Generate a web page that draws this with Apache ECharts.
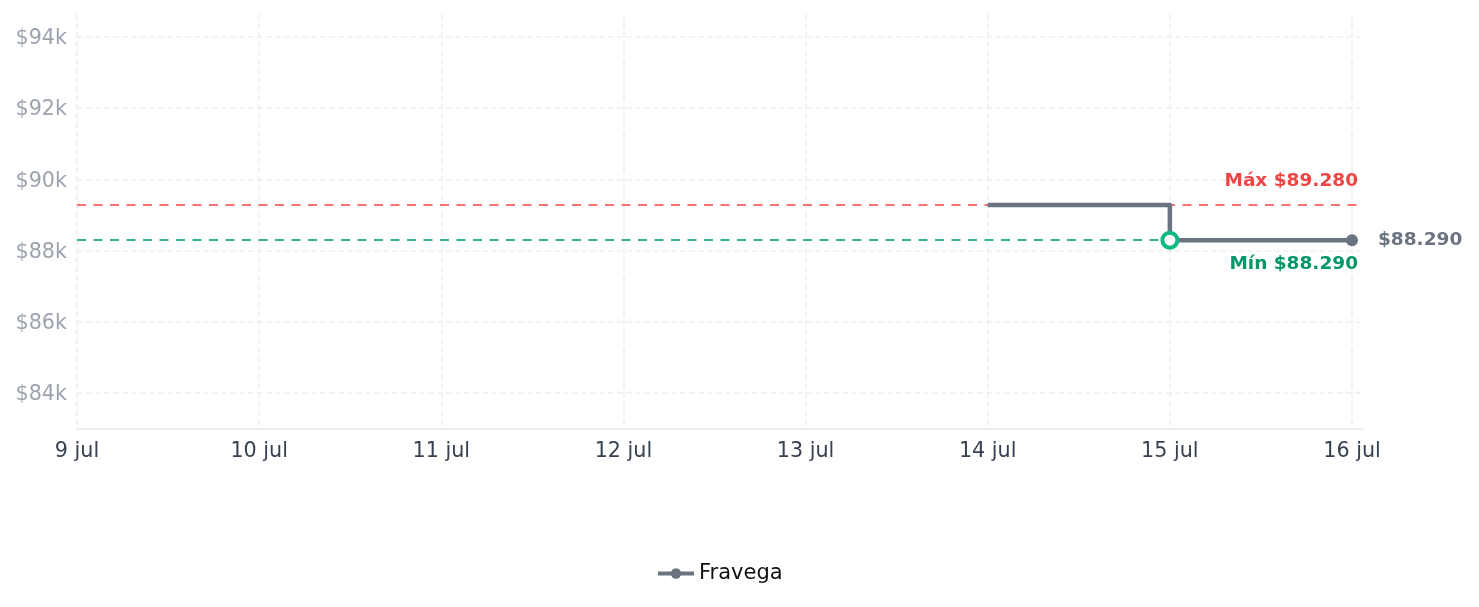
<!DOCTYPE html>
<html>
<head>
<meta charset="utf-8">
<script src="https://cdn.jsdelivr.net/npm/echarts@6/dist/echarts.min.js"></script>
<style>
  html, body { margin: 0; padding: 0; background: #fff; }
  #chart { width: 1479px; height: 607px; }
</style>
</head>
<body>
<div id="chart"></div>
<script>
// datos
const storeName = 'Fravega'
const dates = ['2025-07-14', '2025-07-15', '2025-07-16']
const prices = [89280, 88290, 88290]
const maxPrice = 89280
const minPrice = 88290
const monthNames = ['ene', 'feb', 'mar', 'abr', 'may', 'jun', 'jul', 'ago', 'sep', 'oct', 'nov', 'dic']

function toDate(s) {
  const p = s.split('-')
  return new Date(+p[0], +p[1] - 1, +p[2]).getTime()
}
function fmtMoney(v) {
  return '$' + String(v).replace(/\B(?=(\d{3})+(?!\d))/g, '.')
}

const axisMin = toDate('2025-07-09')
const axisMax = toDate('2025-07-16') + 1.45 * 3600 * 1000

// puntos de la serie
const seriesData = dates.map((d, i) => {
  const item = { value: [toDate(d), prices[i]] }
  if (i === 1) {
    // marcador del minimo
    item.symbol = 'circle'
    item.symbolSize = 15
    item.itemStyle = { color: '#fff', borderColor: '#10b981', borderWidth: 4 }
  } else if (i === dates.length - 1) {
    item.symbol = 'circle'
    item.symbolSize = 12
    item.itemStyle = { color: '#6b7280' }
    item.label = {
      show: true,
      position: 'right',
      distance: 20,
      formatter: () => fmtMoney(prices[i]),
      color: '#6b7280',
      fontWeight: 'bold',
      fontSize: 18.5
    }
  } else {
    item.symbol = 'none'
  }
  return item
})

const chart = echarts.init(document.getElementById('chart'))
chart.setOption({
  animation: false,
  textStyle: { fontFamily: 'DejaVu Sans' },
  grid: { left: 77, right: 116, top: 14, bottom: 178 },
  legend: {
    bottom: 18,
    left: 651,
    data: [storeName],
    itemWidth: 36,
    itemHeight: 13,
    itemGap: 10,
    lineStyle: { width: 4 },
    textStyle: { color: '#111', fontSize: 21 }
  },
  xAxis: {
    type: 'time',
    min: axisMin,
    max: axisMax,
    minInterval: 86400000,
    maxInterval: 86400000,
    axisLine: { lineStyle: { color: '#e5e7eb', width: 1.5 } },
    axisTick: { show: false },
    axisLabel: {
      color: '#374151',
      fontSize: 20.7,
      margin: 12,
      showMaxLabel: false,
      formatter: v => {
        const d = new Date(v)
        return d.getDate() + ' ' + monthNames[d.getMonth()]
      }
    },
    splitLine: { show: true, showMaxLine: false, lineStyle: { color: '#f0f0f2', type: 'dashed', width: 1.5 } }
  },
  yAxis: {
    type: 'value',
    min: minPrice * 0.94,
    max: maxPrice * 1.06,
    axisLine: { show: false },
    axisTick: { show: false },
    axisLabel: {
      color: '#9ca3af',
      fontSize: 20.7,
      margin: 10,
      verticalAlign: 'top',
      lineHeight: 24,
      padding: [-10, 0, 0, 0],
      showMinLabel: false,
      showMaxLabel: false,
      formatter: v => '$' + Math.round(v / 1000) + 'k'
    },
    splitLine: { showMaxLine: false, showMinLine: false, lineStyle: { color: '#f0f0f2', type: 'dashed', width: 1.5 } }
  },
  series: [{
    name: storeName,
    type: 'line',
    step: 'end',
    color: '#6b7280',
    symbol: 'circle',
    symbolSize: 12,
    showSymbol: true,
    lineStyle: { width: 4.5, color: '#6b7280', join: 'round' },
    itemStyle: { color: '#6b7280' },
    data: seriesData,
    z: 5,
    markLine: {
      silent: true,
      symbol: 'none',
      data: [
        {
          yAxis: maxPrice,
          lineStyle: { color: '#f87171', type: [9, 7.5], width: 2 },
          label: {
            position: 'insideEndTop',
            formatter: 'Máx ' + fmtMoney(maxPrice),
            color: '#ef4444',
            fontWeight: 'bold',
            fontSize: 18.5,
            distance: [5, 14]
          }
        },
        {
          yAxis: minPrice,
          lineStyle: { color: '#34b38a', type: [9, 7.5], width: 2 },
          label: {
            position: 'insideEndBottom',
            formatter: 'Mín ' + fmtMoney(minPrice),
            color: '#059669',
            fontWeight: 'bold',
            fontSize: 18.5,
            distance: [5, 14]
          }
        }
      ]
    }
  }]
})
</script>
</body>
</html>
